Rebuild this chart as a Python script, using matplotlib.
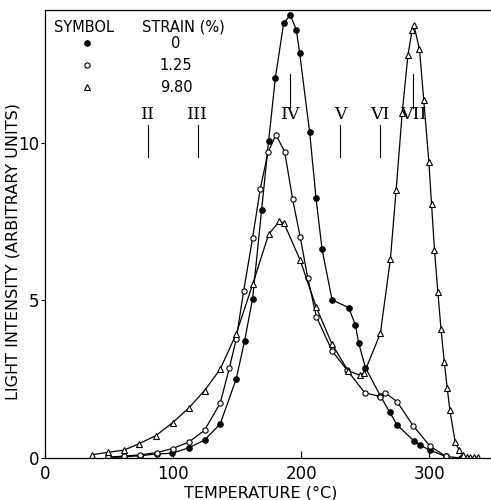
import matplotlib
matplotlib.use("Agg")
import matplotlib.pyplot as plt

# strain 0 %  (filled circles)
t_0 = [49, 62, 74, 87, 99, 112, 124.5, 136.7, 149.2, 155.7, 162, 169, 174.5, 179.7,
       186.2, 191.4, 196.1, 198.7, 206.5, 211.5, 216.2, 224, 237, 242.2, 244.8, 250,
       261.7, 269, 274.7, 287.7, 292.4, 300.3, 312.5, 324.8]
i_0 = [0.0, 0.04, 0.07, 0.13, 0.15, 0.32, 0.57, 1.08, 2.51, 3.71, 5.06, 7.87, 10.06, 12.05,
       13.8, 14.06, 13.59, 12.85, 10.34, 8.24, 6.62, 5.02, 4.77, 4.22, 3.64, 2.87,
       1.97, 1.45, 1.05, 0.55, 0.41, 0.25, 0.05, 0.0]

# strain 1.25 %  (open circles)
t_125 = [49.5, 62, 74, 87, 99.5, 112, 124.5, 136.7, 143.8, 149.2, 155, 162, 168, 174,
         180.2, 187, 193.2, 199.2, 205, 211.7, 224, 235.7, 249.5, 261.7, 265.6, 274.7,
         287.3, 300.3, 312.5]
i_125 = [0.03, 0.06, 0.1, 0.17, 0.3, 0.5, 0.88, 1.74, 2.85, 3.77, 5.3, 6.99, 8.55, 9.7,
         10.26, 9.72, 8.22, 7.0, 5.72, 4.49, 3.4, 2.79, 2.07, 1.95, 2.06, 1.79,
         1.02, 0.38, 0.06]

# strain 9.80 %  (triangles)
t_980 = [36.5, 49, 61.7, 73.7, 86.5, 99.5, 112, 124.5, 136.7, 149.2, 162, 174.5, 182.8,
         186.5, 199, 211.7, 224, 236.5, 245.6, 249.2, 261.7, 269.5, 274, 278.7, 283.2,
         286.5, 287.8, 292.2, 295.5, 299.5, 301.6, 303.9, 306.5, 309, 311.5, 313.8,
         315.9, 320, 323, 326, 329, 332, 335, 338]
i_980 = [0.1, 0.18, 0.25, 0.46, 0.71, 1.12, 1.58, 2.14, 2.82, 3.94, 5.51, 7.1, 7.51,
         7.45, 6.29, 4.78, 3.61, 2.77, 2.63, 2.71, 3.96, 6.31, 8.51, 10.95, 12.79,
         13.59, 13.75, 12.97, 11.37, 9.41, 8.06, 6.6, 5.28, 4.09, 3.06, 2.23,
         1.52, 0.52, 0.25, 0.08, 0.03, 0.02, 0.02, 0.02]

# glow peak markers
peak_names = ["II", "III", "IV", "V", "VI", "VII"]
peak_t = [80, 119.3, 191.4, 230.5, 261.7, 287.5]
peak_above = [False, False, True, False, False, True]  # tick line drawn above label

strain_labels = ["0", "1.25", "9.80"]

fig = plt.figure(figsize=(4.91, 5.0), dpi=100)
ax = fig.add_axes([45 / 491, 42 / 500, 446 / 491, 448 / 500])

lw = 0.9
ax.plot(t_0, i_0, color="black", lw=lw, marker="o", ms=3.8, mfc="black", mec="black")
ax.plot(t_125, i_125, color="black", lw=lw, marker="o", ms=3.8, mfc="white", mec="black", mew=0.8)
ax.plot(t_980, i_980, color="black", lw=lw, marker="^", ms=4.6, mfc="white", mec="black", mew=0.8)

# roman numeral labels and their marker lines
for name, t, above in zip(peak_names, peak_t, peak_above):
    ax.text(t, 10.89, name, ha="center", va="center", fontsize=12.5,
            family="DejaVu Serif")
    if above:
        ax.plot([t, t], [11.1, 12.2], color="black", lw=0.8)
    else:
        ax.plot([t, t], [9.56, 10.57], color="black", lw=0.8)

# legend as a little table
ax.text(0.020, 0.962, "SYMBOL", transform=ax.transAxes, ha="left", va="center", fontsize=10.5)
ax.text(0.31, 0.962, "STRAIN (%)", transform=ax.transAxes, ha="center", va="center", fontsize=10.5)
leg_y = [0.926, 0.877, 0.828]
styles = [dict(marker="o", ms=3.8, mfc="black", mec="black"),
          dict(marker="o", ms=3.8, mfc="white", mec="black", mew=0.8),
          dict(marker="^", ms=4.6, mfc="white", mec="black", mew=0.8)]
for y, lab, st in zip(leg_y, strain_labels, styles):
    ax.plot([0.094], [y], transform=ax.transAxes, ls="none", **st)
    ax.text(0.294, y, lab, transform=ax.transAxes, ha="center", va="center", fontsize=10.5)

ax.set_xlim(0, 348)
ax.set_ylim(0, 14.22)
ax.set_xticks([0, 100, 200, 300])
ax.set_yticks([0, 5, 10])
ax.tick_params(axis="x", direction="in", length=5, labelsize=12, pad=5)
ax.tick_params(axis="y", direction="out", length=3, labelsize=12, pad=1)
ax.spines["right"].set_visible(False)
for s in ["left", "bottom", "top"]:
    ax.spines[s].set_linewidth(0.9)

ax.set_xlabel("TEMPERATURE (°C)", fontsize=11.5)
ax.set_ylabel("LIGHT INTENSITY (ARBITRARY UNITS)", fontsize=11.5)
ax.xaxis.set_label_coords(0.484, -0.062)
ax.yaxis.set_label_coords(-0.056, 0.46)

fig.savefig("out.png", dpi=100)
